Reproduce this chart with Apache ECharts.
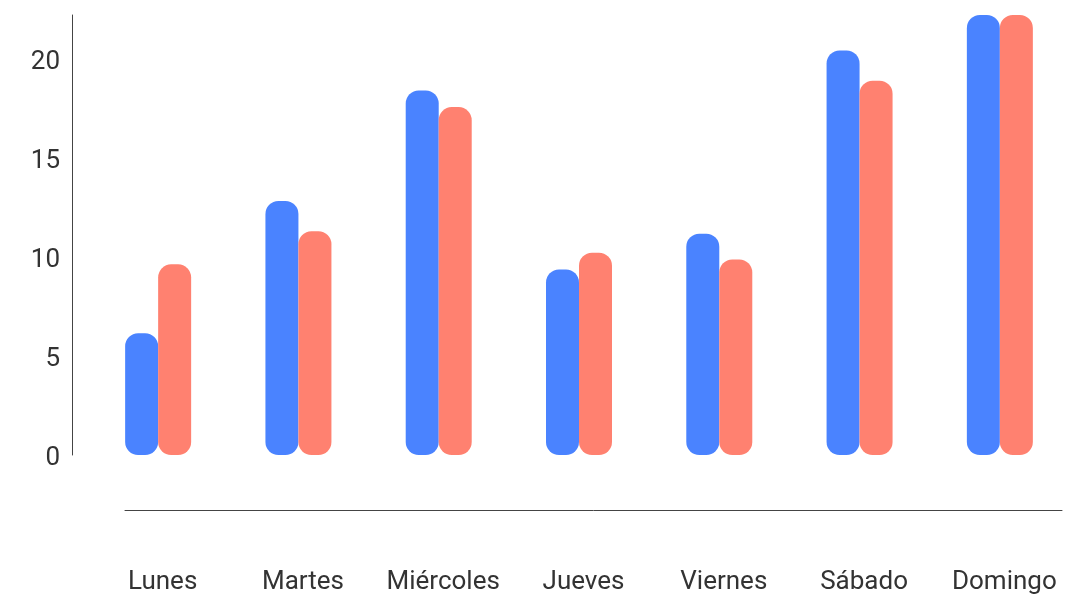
<!DOCTYPE html>
<html>
<head>
<meta charset="utf-8">
<script src="https://cdn.jsdelivr.net/npm/echarts@6/dist/echarts.min.js"></script>
<style>
html,body{margin:0;padding:0;background:#fff;}
#chart{width:1090px;height:595px;}
</style>
</head>
<body>
<div id="chart"></div>
<script>
const categories = ['Lunes', 'Martes', 'Miércoles', 'Jueves', 'Viernes', 'Sábado', 'Domingo'];
const seriesA = [6.16, 12.86, 18.45, 9.39, 11.2, 20.47, 22.27];
const seriesB = [9.65, 11.33, 17.61, 10.24, 9.9, 18.94, 22.27];
const yTicks = [0, 5, 10, 15, 20];

const chart = echarts.init(document.getElementById('chart'));
const font = 'Roboto';
chart.setOption({
  animation: false,
  grid: [
    { left: 88, right: 20, top: 15, bottom: 139 },
    { left: 125, right: 28, top: 15, bottom: 139 }
  ],
  xAxis: [
    {
      type: 'category', gridIndex: 0, data: categories,
      axisLine: { show: false, onZero: false }, axisTick: { show: false },
      axisLabel: { interval: 0, color: '#333', fontFamily: font, fontSize: 26, margin: 114, padding: [0, 0, 0, 9] }
    },
    {
      type: 'category', gridIndex: 1, data: categories, offset: 54,
      axisLine: { show: true, onZero: false, lineStyle: { color: '#444', width: 1 } },
      axisTick: { show: false }, axisLabel: { show: false }
    }
  ],
  yAxis: [
    {
      type: 'value', gridIndex: 0, min: 0, max: 'dataMax', interval: 5, offset: 16,
      axisLine: { show: true, lineStyle: { color: '#444', width: 1 } },
      axisTick: { show: false }, splitLine: { show: false },
      axisLabel: {
        color: '#333', fontFamily: font, fontSize: 26, margin: 12, showMaxLabel: false,
        formatter: v => (yTicks.indexOf(v) >= 0 ? '{a|' + v + '}' : ''),
        rich: { a: { color: '#333', fontFamily: font, fontSize: 26, padding: [6, 0, 0, 0] } }
      }
    },
    { type: 'value', gridIndex: 1, show: false }
  ],
  series: [
    {
      type: 'bar', data: seriesA, barWidth: 33, barGap: '0%',
      itemStyle: { color: '#4a83ff', borderRadius: 13 }
    },
    {
      type: 'bar', data: seriesB, barWidth: 33,
      itemStyle: { color: '#ff8170', borderRadius: 13 }
    }
  ]
});
</script>
</body>
</html>
